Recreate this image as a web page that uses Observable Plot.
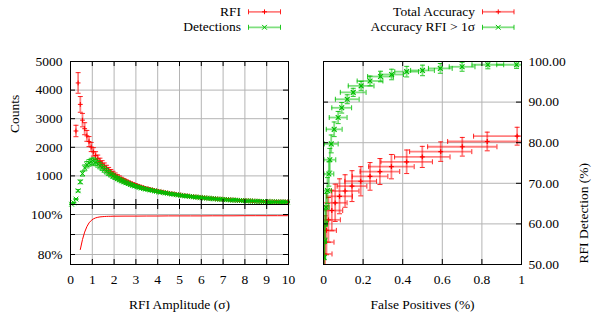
<!DOCTYPE html>
<html><head><meta charset="utf-8">
<script src="https://cdn.jsdelivr.net/npm/d3@7"></script>
<script src="https://cdn.jsdelivr.net/npm/@observablehq/plot@0.6"></script>
<style>
body{margin:0;background:#fff;}
#chart{position:relative;width:610px;height:315px;background:#fff;font-family:'Liberation Serif','Times New Roman',serif;}
#chart svg{position:absolute;left:0;top:0;}
</style></head><body><div id="chart"></div>
<script>
// ---------- data: left panel (counts vs RFI amplitude) ----------
const ampX = [
 0.05,0.15,0.25,0.35,0.45,0.55,0.65,0.75,0.85,0.95,
 1.05,1.15,1.25,1.35,1.45,1.55,1.65,1.75,1.85,1.95,
 2.05,2.15,2.25,2.35,2.45,2.55,2.65,2.75,2.85,2.95,
 3.05,3.15,3.25,3.35,3.45,3.55,3.65,3.75,3.85,3.95,
 4.05,4.15,4.25,4.35,4.45,4.55,4.65,4.75,4.85,4.95,
 5.05,5.15,5.25,5.35,5.45,5.55,5.65,5.75,5.85,5.95,
 6.05,6.15,6.25,6.35,6.45,6.55,6.65,6.75,6.85,6.95,
 7.05,7.15,7.25,7.35,7.45,7.55,7.65,7.75,7.85,7.95,
 8.05,8.15,8.25,8.35,8.45,8.55,8.65,8.75,8.85,8.95,
 9.05,9.15,9.25,9.35,9.45,9.55,9.65,9.75,9.85,9.95];
const rfiCounts = [
 null,null,2570,4250,3500,2950,2650,2400,2200,2010,
 1840,1710,1600,1500,1420,1345,1270,1200,1135,1075,
 1020,968,922,880,840,804,770,738,708,680,
 653,628,604,582,562,543,525,508,491,475,
 460,445,431,417,404,391,379,367,355,344,
 333,322,312,302,292,283,274,266,258,250,
 242,235,228,221,214,208,202,196,190,185,
 179,174,169,164,159,155,150,146,142,138,
 134,130,126,123,119,116,113,110,107,104,
 102,100,98,96,94,92,91,90,89,88];
const rfiErr = [
 null,null,200,360,275,235,210,190,175,160,
 147,137,128,120,113,107,101,96,90,86,
 81,77,74,70,67,64,62,59,57,54,
 52,50,48,47,45,43,42,40,39,38,
 37,36,34,33,32,31,30,29,28,28,
 27,26,25,24,23,23,22,21,21,20,
 19,19,18,18,17,17,16,16,15,15,
 14,14,14,13,13,12,12,12,11,11,
 11,10,10,10,9,9,9,9,8,8,
 8,8,8,8,7,7,7,7,7,7];
const detCounts = [
 10,60,190,480,790,1080,1280,1390,1455,1495,
 1510,1475,1420,1355,1290,1225,1160,1100,1045,995,
 950,905,865,828,793,760,730,700,672,646,
 621,598,575,557,539,522,505,489,473,458,
 443,429,415,402,389,377,365,353,342,331,
 320,310,300,291,282,273,265,257,249,241,
 234,227,220,213,207,201,195,189,184,178,
 173,168,163,158,154,149,145,141,137,133,
 129,125,122,118,115,112,109,106,103,100,
 98,96,94,92,91,89,88,87,86,85];
const detErr = [
 2,6,16,40,63,86,102,111,116,120,
 121,118,114,108,103,98,93,88,84,80,
 76,72,69,66,63,61,58,56,54,52,
 50,48,46,45,43,42,40,39,38,37,
 35,34,33,32,31,30,29,28,27,26,
 26,25,24,23,22,22,21,21,20,19,
 19,18,18,17,17,16,16,15,15,14,
 14,13,13,13,12,12,12,11,11,11,
 10,10,10,9,9,9,9,8,8,8,
 8,8,8,7,7,7,7,7,7,7];
// accuracy line (lower left)
const accAmp = [0.45,0.55,0.65,0.75,0.85,0.95,1.05,1.15,1.25,1.35,1.45,1.55,1.65,1.75,1.85,1.95,2.5,3,3.5,4,4.5,5,5.5,6,6.5,7,7.5,8,8.5,9,9.5,9.95];
const accPct = [82.5,87.5,91.2,93.9,95.8,97.0,97.8,98.3,98.6,98.8,98.9,99.0,99.05,99.1,99.1,99.15,99.2,99.2,99.25,99.25,99.3,99.3,99.3,99.3,99.35,99.35,99.35,99.4,99.4,99.4,99.4,99.4];
// ---------- data: right panel (detection vs false positives) ----------
const totFP    = [0.978,0.827,0.701,0.592,0.499,0.420,0.343,0.285,0.235,0.188,0.144,0.109,0.081,0.059,0.042,0.025,0.015,0.008,0.003];
const totFPErr = [0.22,0.20,0.175,0.157,0.14,0.13,0.115,0.10,0.09,0.08,0.075,0.07,0.065,0.06,0.055,0.06,0.05,0.045,0.04];
const totDet    = [81.6,80.3,79.0,77.8,76.5,75.3,74.1,72.9,71.7,70.5,69.3,68.1,66.8,65.2,63.3,61.0,58.4,55.5,52.6];
const totDetErr = [2.2,2.3,2.3,2.4,2.6,2.9,3.0,3.2,3.4,3.6,3.8,4.0,4.3,4.6,5.0,5.5,6.0,6.5,7.0];
const hiFP    = [0.975,0.83,0.70,0.59,0.50,0.42,0.344,0.288,0.235,0.19,0.15,0.12,0.092,0.074,0.054,0.039,0.032,0.027,0.02,0.013,0.008,0.005,0.003];
const hiFPErr = [0.1,0.08,0.065,0.06,0.06,0.06,0.06,0.065,0.065,0.065,0.065,0.06,0.05,0.045,0.04,0.035,0.03,0.025,0.02,0.016,0.012,0.01,0.008];
const hiDet    = [99.2,99.2,98.7,98.3,97.8,97.5,96.8,96.3,95.2,94.0,92.4,90.7,88.6,86.2,83.3,79.7,75.8,72.3,68.2,64.1,60.0,55.8,51.7];
const hiDetErr = [0.9,1.0,1.1,1.2,1.3,1.3,1.3,1.3,1.2,1.1,1.0,1.1,1.3,1.5,1.8,2.2,2.8,3.0,3.2,3.4,3.5,3.5,3.5];
// ---------- ticks & labels ----------
const ampTicks = [0,1,2,3,4,5,6,7,8,9,10];
const ampLabels = ["0","1","2","3","4","5","6","7","8","9","10"];
const countTicks = [1000,2000,3000,4000,5000];
const countLabels = ["1000","2000","3000","4000","5000"];
const pctTicks = [80,90,100];
const pctLabelTicks = [80,100];
const pctLabels = ["80%","100%"];
const fpTicks = [0,0.2,0.4,0.6,0.8,1];
const fpLabels = ["0","0.2","0.4","0.6","0.8","1"];
const detTicks = [50,60,70,80,90,100];
const detLabels = ["50.00","60.00","70.00","80.00","90.00","100.00"];
const seriesNames = ["RFI","Detections","Total Accuracy","Accuracy RFI > 1σ"];
const axisTitles = ["Counts","RFI Amplitude (σ)","False Positives (%)","RFI Detection (%)"];

// ---------- styles ----------
const RED = "#ff0000", GREEN = "#00c000", GRID = "#b4b4b4";
const W = 610, H = 315, FS = 13.5;
const BAR_OP = 0.5, BAR_W = 1.8;
const styleObj = {fontFamily: "'Liberation Serif','Times New Roman',serif", fontSize: FS + "px", background: "transparent", overflow: "visible", color: "black"};

const sym = f => ({draw(ctx, size) { const r = Math.sqrt(size / Math.PI); f(ctx, r); }});
const plusSym  = sym((c, r) => { c.moveTo(-r, 0); c.lineTo(r, 0); c.moveTo(0, -r); c.lineTo(0, r); });
const timesSym = sym((c, r) => { c.moveTo(-r, -r); c.lineTo(r, r); c.moveTo(-r, r); c.lineTo(r, -r); });
const hCap = sym((c, r) => { c.moveTo(-r, 0); c.lineTo(r, 0); });
const vCap = sym((c, r) => { c.moveTo(0, -r); c.lineTo(0, r); });

function yErr(data, color, marker) {
  return [
    Plot.ruleX(data, {x: "x", y1: d => d.y - d.ey, y2: d => d.y + d.ey, stroke: color, strokeOpacity: BAR_OP, strokeWidth: BAR_W}),
    Plot.dot(data, {x: "x", y: d => d.y - d.ey, symbol: hCap, r: 2.5, stroke: color, fill: "none", strokeWidth: 1, strokeOpacity: 0.85}),
    Plot.dot(data, {x: "x", y: d => d.y + d.ey, symbol: hCap, r: 2.5, stroke: color, fill: "none", strokeWidth: 1, strokeOpacity: 0.85}),
    Plot.dot(data, {x: "x", y: "y", symbol: marker, r: 2.4, stroke: color, fill: "none", strokeWidth: 1})
  ];
}
function xyErr(data, color, marker) {
  const o = {stroke: color, fill: "none", clip: true};
  return [
    Plot.ruleY(data, {y: "y", x1: d => d.x - d.ex, x2: d => d.x + d.ex, ...o, strokeOpacity: BAR_OP, strokeWidth: BAR_W}),
    Plot.ruleX(data, {x: "x", y1: d => d.y - d.ey, y2: d => d.y + d.ey, ...o, strokeOpacity: BAR_OP, strokeWidth: BAR_W}),
    Plot.dot(data, {x: d => d.x - d.ex, y: "y", symbol: vCap, r: 2.5, ...o, strokeWidth: 1, strokeOpacity: 0.85}),
    Plot.dot(data, {x: d => d.x + d.ex, y: "y", symbol: vCap, r: 2.5, ...o, strokeWidth: 1, strokeOpacity: 0.85}),
    Plot.dot(data, {x: "x", y: d => d.y - d.ey, symbol: hCap, r: 2.5, ...o, strokeWidth: 1, strokeOpacity: 0.85}),
    Plot.dot(data, {x: "x", y: d => d.y + d.ey, symbol: hCap, r: 2.5, ...o, strokeWidth: 1, strokeOpacity: 0.85}),
    Plot.dot(data, {x: "x", y: "y", symbol: marker, r: 2.4, ...o, strokeWidth: 1.2})
  ];
}
function inTicksX(ticks, fh) {
  return [Plot.tickX(ticks, {x: d => d, insetTop: fh - 5, stroke: "black"}),
          Plot.tickX(ticks, {x: d => d, insetBottom: fh - 5, stroke: "black"})];
}
function inTicksY(ticks, fw) {
  return [Plot.tickY(ticks, {y: d => d, insetRight: fw - 5, stroke: "black"}),
          Plot.tickY(ticks, {y: d => d, insetLeft: fw - 5, stroke: "black"})];
}

const rfiData = ampX.map((x, i) => ({x, y: rfiCounts[i], ey: rfiErr[i]})).filter(d => d.y != null);
const detData = ampX.map((x, i) => ({x, y: detCounts[i], ey: detErr[i]}));
const accData = accAmp.map((x, i) => ({x, y: accPct[i]}));
const totData = totFP.map((x, i) => ({x, ex: totFPErr[i], y: totDet[i], ey: totDetErr[i]}));
const hiData = hiFP.map((x, i) => ({x, ex: hiFPErr[i], y: hiDet[i], ey: hiDetErr[i]}));

// ---------- panel A: counts ----------
const A = Plot.plot({
  width: W, height: H, marginLeft: 70, marginRight: 322, marginTop: 61, marginBottom: 111,
  style: styleObj,
  x: {domain: [0, 10], axis: null},
  y: {domain: [0, 5000]},
  marks: [
    Plot.gridX(ampTicks.slice(1, -1), {stroke: GRID, strokeOpacity: 1}),
    Plot.gridY(countTicks.slice(0, -1), {stroke: GRID, strokeOpacity: 1}),
    ...yErr(rfiData, RED, plusSym),
    ...yErr(detData, GREEN, timesSym),
    Plot.frame({stroke: "black"}),
    ...inTicksX(ampTicks, 143),
    ...inTicksY(countTicks, 218),
    Plot.axisY(countTicks, {tickSize: 0, tickPadding: 8, tickFormat: d => countLabels[countTicks.indexOf(d)], label: null}),
    Plot.text([axisTitles[0]], {text: d => d, frameAnchor: "left", dx: -56, rotate: -90, lineAnchor: "middle"})
  ]
});

// ---------- panel B: accuracy percent ----------
const B = Plot.plot({
  width: W, height: H, marginLeft: 70, marginRight: 322, marginTop: 204, marginBottom: 51,
  style: styleObj,
  x: {domain: [0, 10]},
  y: {domain: [75, 105]},
  marks: [
    Plot.gridX(ampTicks.slice(1, -1), {stroke: GRID, strokeOpacity: 1}),
    Plot.gridY(pctTicks, {stroke: GRID, strokeOpacity: 1}),
    Plot.line(accData, {x: "x", y: "y", stroke: RED, strokeWidth: 1}),
    Plot.frame({stroke: "black"}),
    ...inTicksX(ampTicks, 60),
    ...inTicksY(pctTicks, 218),
    Plot.axisY(pctLabelTicks, {tickSize: 0, tickPadding: 8, tickFormat: d => pctLabels[pctLabelTicks.indexOf(d)], label: null}),
    Plot.axisX(ampTicks, {tickSize: 0, tickPadding: 10, tickFormat: d => ampLabels[ampTicks.indexOf(d)], label: null}),
    Plot.text([axisTitles[1]], {text: d => d, frameAnchor: "bottom", dy: 40, lineAnchor: "middle"})
  ]
});

// ---------- panel C: detection vs false positives ----------
const C = Plot.plot({
  width: W, height: H, marginLeft: 323, marginRight: 89, marginTop: 61, marginBottom: 51,
  style: styleObj,
  x: {domain: [0, 1]},
  y: {domain: [50, 100]},
  marks: [
    Plot.gridX(fpTicks.slice(1, -1), {stroke: GRID, strokeOpacity: 1}),
    Plot.gridY(detTicks.slice(1, -1), {stroke: GRID, strokeOpacity: 1}),
    ...xyErr(totData, RED, plusSym),
    ...xyErr(hiData, GREEN, timesSym),
    Plot.frame({stroke: "black"}),
    ...inTicksX(fpTicks, 203),
    ...inTicksY(detTicks, 198),
    Plot.axisY(detTicks, {anchor: "right", tickSize: 0, tickPadding: 7, tickFormat: d => detLabels[detTicks.indexOf(d)], label: null}),
    Plot.axisX(fpTicks, {tickSize: 0, tickPadding: 10, tickFormat: d => fpLabels[fpTicks.indexOf(d)], label: null}),
    Plot.text([axisTitles[2]], {text: d => d, frameAnchor: "bottom", dy: 40, lineAnchor: "middle"}),
    Plot.text([axisTitles[3]], {text: d => d, frameAnchor: "right", dx: 62, rotate: -90, lineAnchor: "middle"})
  ]
});

const chart = document.getElementById("chart");
[A, B, C].forEach(p => chart.appendChild(p));

// ---------- legend ----------
function legendEntry(xText, y, name, color, marker, x0, x1) {
  const xm = (x0 + x1) / 2, yl = y - 3.7;
  const mk = marker === "plus"
    ? `<path d="M${xm-2.4},${yl}H${xm+2.4}M${xm},${yl-2.4}V${yl+2.4}" stroke="${color}" fill="none"/>`
    : `<path d="M${xm-2.4},${yl-2.4}L${xm+2.4},${yl+2.4}M${xm-2.4},${yl+2.4}L${xm+2.4},${yl-2.4}" stroke="${color}" fill="none"/>`;
  return `<text x="${xText}" y="${y}" text-anchor="end">${name}</text>
    <line x1="${x0}" x2="${x1}" y1="${yl}" y2="${yl}" stroke="${color}" stroke-opacity="${BAR_OP}" stroke-width="${BAR_W}"/>
    <path d="M${x0},${yl-2.5}V${yl+2.5}M${x1},${yl-2.5}V${yl+2.5}" stroke="${color}" stroke-opacity="0.85" fill="none"/>
    ${mk}`;
}
const leg = document.createElementNS("http://www.w3.org/2000/svg", "svg");
leg.setAttribute("width", W); leg.setAttribute("height", 40);
leg.setAttribute("font-family", "'Liberation Serif','Times New Roman',serif");
leg.setAttribute("font-size", FS);
leg.innerHTML =
  legendEntry(241, 15.5, seriesNames[0], RED, "plus", 248.5, 280.5) +
  legendEntry(241, 31, seriesNames[1], GREEN, "times", 248.5, 280.5) +
  legendEntry(475, 15.5, seriesNames[2], RED, "plus", 482.5, 514) +
  legendEntry(475, 31, seriesNames[3], GREEN, "times", 482.5, 514);
chart.appendChild(leg);
</script></body></html>
